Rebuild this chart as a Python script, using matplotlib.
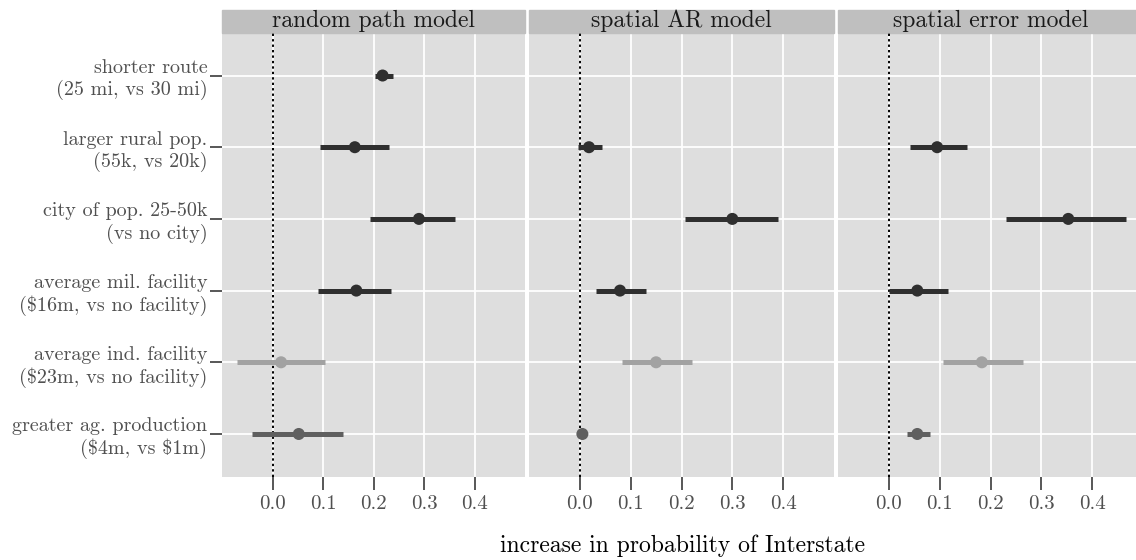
import numpy as np
import matplotlib
matplotlib.use("Agg")
import matplotlib.pyplot as plt
from matplotlib.patches import Rectangle

plt.rcParams['font.family'] = ['cmr10', 'DejaVu Serif']
plt.rcParams['mathtext.fontset'] = 'cm'
plt.rcParams['axes.formatter.use_mathtext'] = True

# rows, top to bottom
factors = ["shorter route\n(25 mi, vs 30 mi)",
           "larger rural pop.\n(55k, vs 20k)",
           "city of pop. 25-50k\n(vs no city)",
           "average mil. facility\n(\\$16m, vs no facility)",
           "average ind. facility\n(\\$23m, vs no facility)",
           "greater ag. production\n(\\$4m, vs \\$1m)"]
signif = ["high", "high", "high", "high", "none", "mid"]
models = ["random path model", "spatial AR model", "spatial error model"]

rp_est = [0.218, 0.163, 0.290, 0.166, 0.017, 0.052]
rp_lo = [0.202, 0.095, 0.193, 0.091, -0.071, -0.041]
rp_hi = [0.239, 0.230, 0.362, 0.235, 0.103, 0.140]

ar_est = [np.nan, 0.018, 0.300, 0.079, 0.150, 0.005]
ar_lo = [np.nan, -0.003, 0.207, 0.032, 0.082, -0.002]
ar_hi = [np.nan, 0.043, 0.390, 0.130, 0.220, 0.010]

se_est = [np.nan, 0.095, 0.353, 0.056, 0.183, 0.056]
se_lo = [np.nan, 0.042, 0.230, 0.001, 0.107, 0.036]
se_hi = [np.nan, 0.154, 0.467, 0.117, 0.263, 0.080]

xticks = [0.0, 0.1, 0.2, 0.3, 0.4]
xticklabels = ["0.0", "0.1", "0.2", "0.3", "0.4"]

shade = {"high": "#2f2f2f", "mid": "#5f5f5f", "none": "#a2a2a2"}

W, H = 1136, 560
fig = plt.figure(figsize=(W / 100, H / 100), dpi=100)

panel_x = [(222, 525), (529, 834), (838, 1143)]
ytop, ybot = 32.5, 477
strip_h = 22.5 / (ybot - ytop)

ests = [rp_est, ar_est, se_est]
los = [rp_lo, ar_lo, se_lo]
his = [rp_hi, ar_hi, se_hi]

ypos = np.arange(len(factors), 0, -1)
cols = [shade[s] for s in signif]

for i, (x0, x1) in enumerate(panel_x):
    ax = fig.add_axes([x0 / W, 1 - ybot / H, (x1 - x0) / W, (ybot - ytop) / H])
    ax.set_facecolor("#dedede")
    ax.set_xlim(-0.1, 0.5)
    ax.set_ylim(0.4, len(factors) + 0.6)
    ax.set_xticks(xticks)
    ax.set_xticklabels(xticklabels)
    ax.set_yticks(ypos)
    ax.grid(True, color="white", lw=1.3)
    ax.set_axisbelow(True)
    for sp in ax.spines.values():
        sp.set_visible(False)
    ax.tick_params(axis="x", colors="#4a4a4a", labelcolor="#505050",
                   length=9, width=1.3, labelsize=15, pad=4)
    if i == 0:
        ax.set_yticklabels(factors, ha="right", multialignment="right",
                           linespacing=1.22)
        ax.tick_params(axis="y", colors="#4a4a4a", labelcolor="#505050",
                       length=9, width=1.3, labelsize=14.5, pad=1.5)
    else:
        ax.set_yticklabels([])
        ax.tick_params(axis="y", length=0)

    ax.axvline(0, color="black", ls=(0, (1.2, 1.6)), lw=1.4, zorder=2)

    ax.hlines(ypos, los[i], his[i], colors=cols, lw=3.6, zorder=3,
              capstyle="butt")
    ax.scatter(ests[i], ypos, s=75, c=cols, zorder=4, edgecolors="none")

    ax.add_patch(Rectangle((0, 1), 1, strip_h, transform=ax.transAxes,
                           clip_on=False, color="#bfbfbf", zorder=1))
    ax.text(0.5, 1 + strip_h / 2, models[i], transform=ax.transAxes,
            ha="center", va="center", fontsize=17, color="#1a1a1a")

fig.text(682 / W, 1 - 546 / H, "increase in probability of Interstate",
         ha="center", va="center", fontsize=17, color="black")

fig.savefig("out.png", dpi=100)
